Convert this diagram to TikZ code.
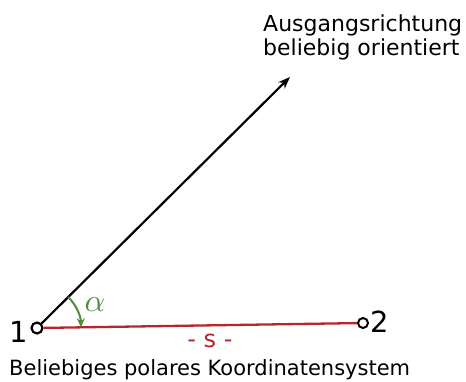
\documentclass[tikz,border=0pt]{standalone}
\usepackage{graphicx}
\usepackage{fontspec}
\setmainfont{DejaVu Sans}
\usetikzlibrary{arrows.meta}
\definecolor{dred}{RGB}{180,40,45}
\definecolor{dgreen}{RGB}{80,140,60}
\begin{document}
\begin{tikzpicture}[x=1pt,y=-1pt,
  pt/.style={circle,draw,line width=2.2pt,minimum size=11pt,inner sep=0pt},
  lbl/.style={inner sep=0pt}]
\useasboundingbox (0,0) rectangle (466,381);
\node[pt] (p1) at (37,328) {};
\node[pt,minimum size=10pt,line width=2pt] (p2) at (363,323) {};
\coordinate (tip) at (290,77);
\draw[line width=2.2pt,-{Stealth[length=12pt,width=9pt]}] (p1) -- (tip);
\draw[dred,line width=2.3pt] (p1) -- (p2);
\draw[dgreen,line width=2pt,-{Stealth[length=9pt,width=8pt]}] (p1.center) ++(-45:44) arc[start angle=-45,end angle=-1,radius=44];
\node[lbl,anchor=east,font=\fontsize{29}{30}\selectfont] (n1) at (28,332) {1};
\node[lbl,anchor=west,font=\fontsize{29}{30}\selectfont] (n2) at (370,322) {2};
\node[lbl,text=dgreen] (al) at (95,305) {\scalebox{3.2}{$\alpha$}};
\node[lbl,text=dred,font=\fontsize{24}{26}\selectfont] (s) at (210,341) {- s -};
\node[lbl,anchor=base west,font=\fontsize{21}{24}\selectfont] (b) at (9,375) {Beliebiges polares Koordinatensystem};
\node[lbl,anchor=base west,font=\fontsize{22}{24}\selectfont] (t1) at (263,31) {Ausgangsrichtung};
\node[lbl,anchor=base west,font=\fontsize{22}{24}\selectfont] (t2) at (263,55) {beliebig orientiert};
\end{tikzpicture}
\end{document}
